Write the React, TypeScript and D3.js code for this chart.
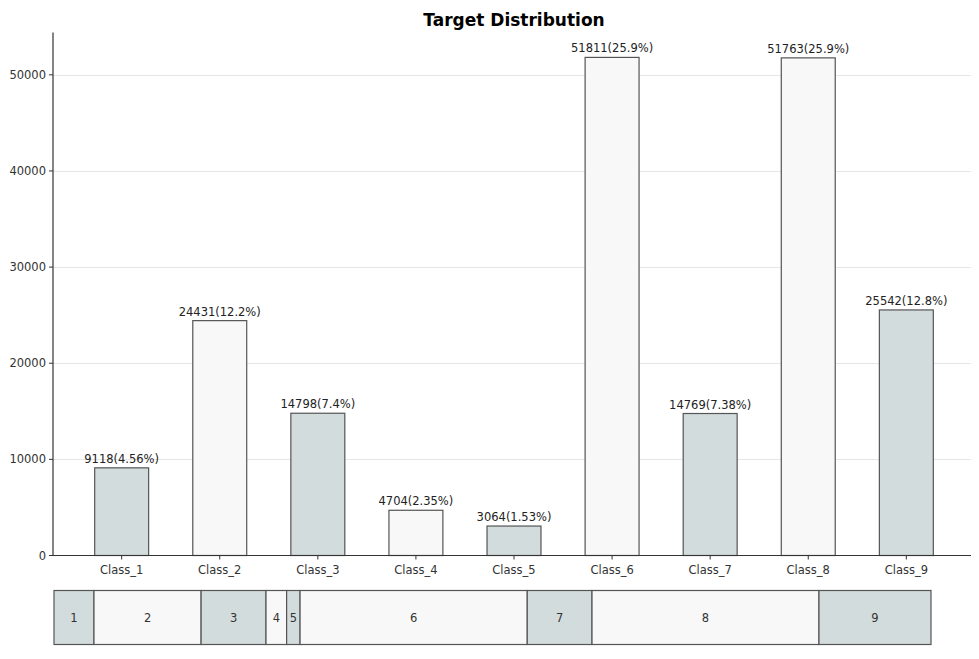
import React from "react";
import * as d3 from "d3";

const categories = ["Class_1","Class_2","Class_3","Class_4","Class_5","Class_6","Class_7","Class_8","Class_9"];
const counts = [9118, 24431, 14798, 4704, 3064, 51811, 14769, 51763, 25542];
const percentLabels = ["4.56%","12.2%","7.4%","2.35%","1.53%","25.9%","7.38%","25.9%","12.8%"];
const stripLabels = ["1","2","3","4","5","6","7","8","9"];
const yTicks = [0, 10000, 20000, 30000, 40000, 50000];

const W = 979, H = 659;
const left = 53, right = 975, top = 32.5, bottom = 555.5;
const colA = "#d3dcdc", colB = "#f8f8f8", edge = "#555555";
const font = "DejaVu Sans, sans-serif";

export default function App() {
  const x = d3.scaleLinear().domain([-0.7, 8.7]).range([left, right]);
  const maxV = d3.max(counts) as number;
  const y = d3.scaleLinear().domain([0, maxV * 1.05]).range([bottom, top]);
  const bw = 0.55;
  const total = d3.sum(counts);
  const sx = d3.scaleLinear().domain([0, total]).range([54, 931]);
  const cum = d3.cumsum(counts);
  const sTop = 590.5, sBot = 644.5;
  return (
    <div style={{ margin: -8 }}>
      <svg width={W} height={H} style={{ display: "block", background: "#fff" }} fontFamily={font}>
        <text x={(left + right) / 2} y={26} textAnchor="middle" fontSize={17} fontWeight="bold" fill="#000">Target Distribution</text>
        {yTicks.filter(t => t > 0).map(t => (
          <line key={"g" + t} x1={left} x2={right} y1={Math.round(y(t)) + 0.5} y2={Math.round(y(t)) + 0.5} stroke="#e6e6e6" strokeWidth={1} />
        ))}
        {counts.map((v, i) => (
          <g key={i}>
            <rect x={x(i - bw / 2)} y={y(v)} width={x(bw) - x(0)} height={y(0) - y(v)} fill={i % 2 === 0 ? colA : colB} stroke={edge} strokeWidth={1.2} />
            <text x={x(i)} y={y(v) - 5} textAnchor="middle" fontSize={11.5} fill="#222">{`${v}(${percentLabels[i]})`}</text>
            <line x1={x(i)} x2={x(i)} y1={bottom} y2={bottom + 4} stroke="#333" />
            <text x={x(i)} y={bottom + 18} textAnchor="middle" fontSize={11.5} fill="#333">{categories[i]}</text>
          </g>
        ))}
        {yTicks.map(t => (
          <g key={"t" + t}>
            <line x1={left - 4} x2={left} y1={y(t)} y2={y(t)} stroke="#333" />
            <text x={left - 7} y={y(t) + 4} textAnchor="end" fontSize={11.5} fill="#333">{t}</text>
          </g>
        ))}
        <line x1={left} x2={left} y1={top} y2={bottom} stroke="#333" strokeWidth={1.2} />
        <line x1={left} x2={right} y1={bottom} y2={bottom} stroke="#333" strokeWidth={1.2} />
        {counts.map((v, i) => {
          const x0 = sx(cum[i] - v), x1 = sx(cum[i]);
          return (
            <g key={"s" + i}>
              <rect x={x0} y={sTop} width={x1 - x0} height={sBot - sTop} fill={i % 2 === 0 ? colA : colB} stroke={edge} strokeWidth={1.2} />
              <text x={(x0 + x1) / 2} y={(sTop + sBot) / 2 + 4} textAnchor="middle" fontSize={11.5} fill="#333">{stripLabels[i]}</text>
            </g>
          );
        })}
      </svg>
    </div>
  );
}
